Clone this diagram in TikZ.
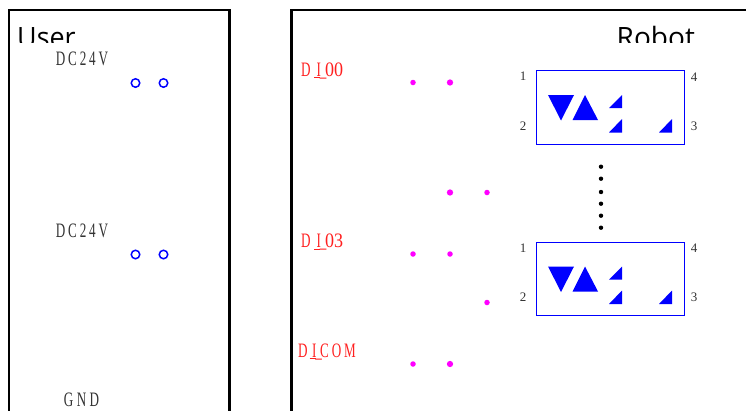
\documentclass[tikz,border=0pt]{standalone}
\usepackage{fontspec}
\setmainfont{Liberation Serif}
\newfontfamily\headfont{Open Sans}
\newfontfamily\condfont[FakeStretch=0.64,LetterSpace=14]{Liberation Serif}
\newfontfamily\tightfont[FakeStretch=0.88,LetterSpace=-1]{Liberation Serif}
\definecolor{lblgray}{HTML}{333333}
\definecolor{lblred}{HTML}{FF2020}
\definecolor{relayblue}{HTML}{0000FF}
\definecolor{dotmag}{HTML}{FF00FF}
\tikzset{
  x=1pt,y=-1pt,
  frameline/.style={draw=black,line width=2.8pt},
  headtext/.style={anchor=base west,inner sep=0pt,font=\headfont\fontsize{28}{28}\selectfont,text=black},
  pwrlabel/.style={inner sep=0pt,font=\condfont\fontsize{20.5}{20.5}\selectfont,text=lblgray},
  dilabel/.style={inner sep=0pt,anchor=base west,font=\condfont\fontsize{20.5}{20.5}\selectfont,text=lblred},
  pinlabel/.style={inner sep=0pt,font=\fontsize{13}{13}\selectfont,text=lblgray},
  term/.style={circle,draw=relayblue,line width=1.5pt,fill=white,minimum size=8.5pt,inner sep=0pt},
  pad/.style={circle,fill=dotmag,minimum size=6.3pt,inner sep=0pt},
  padsmall/.style={circle,fill=dotmag,minimum size=5.5pt,inner sep=0pt},
  relaybox/.style={draw=relayblue,line width=1.1pt,fill=white},
  relayfill/.style={fill=relayblue},
  ellipsisdot/.style={circle,fill=black,minimum size=4.4pt,inner sep=0pt},
}
% the rule carries the underscore back under the I, as the reference prints it
\newcommand{\diunder}{\llap{\rule[-2pt]{6pt}{0.8pt}\kern1pt}\kern-1.2pt\_\kern-1.2pt}
\newcommand{\relayunit}[2]{%
  \begin{scope}[yshift=-#1pt]
    \node[relaybox,minimum width=147.5pt,minimum height=73.5pt,inner sep=0pt,anchor=north west] (#2box) at (536,70) {};
    \fill[relayfill] (548,95) -- (574,95) -- (561,120.5) -- cycle;
    \fill[relayfill] (572.5,120) -- (598,120) -- (585,95) -- cycle;
    \fill[relayfill] (609,108) -- (622,108) -- (622,95) -- cycle;
    \fill[relayfill] (609,132.5) -- (622,132.5) -- (622,119) -- cycle;
    \fill[relayfill] (659,132.5) -- (672,132.5) -- (672,119) -- cycle;
    \node[pinlabel] (#2p1) at (523,76.5) {1};
    \node[pinlabel] (#2p2) at (523,126) {2};
    \node[pinlabel] (#2p3) at (694,126) {3};
    \node[pinlabel] (#2p4) at (694,77) {4};
  \end{scope}}
\begin{document}
\begin{tikzpicture}
\useasboundingbox[fill=white] (0,0) rectangle (746,410);
% frames
\draw[frameline] (9,412) -- (9,10) -- (229.5,10) -- (229.5,412);
\draw[frameline] (291.5,412) -- (291.5,10) -- (748,10);
% clipped headings
\begin{scope}
  \clip (0,12) rectangle (746,42);
  \node[headtext] (user) at (17,47.5) {\scalebox{0.96}[1]{User}};
  \node[headtext] (robot) at (616.5,47.5) {Robot};
\end{scope}
% user labels
\node[pwrlabel] (dca) at (82,59) {DC24V};
\node[pwrlabel] (dcb) at (82,231) {DC24V};
\node[pwrlabel] (gnd) at (81.5,399.5) {G\,N\,D};
\node[term] (ta) at (135.5,83) {};
\node[term] (tb) at (163.5,83) {};
\node[term] (tc) at (135.5,254.5) {};
\node[term] (td) at (163.5,254.5) {};
% robot labels
\node[dilabel] (dia) at (301,76) {D\kern6pt I\diunder{\tightfont 00}};
\node[dilabel] (dib) at (301,247.5) {D\kern6pt I\diunder{\tightfont 03}};
\node[dilabel] (dic) at (298,357) {D\kern4.5pt I\diunder\kern-.5pt COM};
\node[padsmall] (pa) at (413,82.5) {};
\node[pad] (pb) at (450,82.5) {};
\node[pad] (pc) at (450,192.5) {};
\node[padsmall] (pd) at (487,192.5) {};
\node[padsmall] (pe) at (413,254) {};
\node[padsmall] (pf) at (450,254) {};
\node[padsmall] (pg) at (487,302.5) {};
\node[padsmall] (ph) at (413,364) {};
\node[pad] (pi) at (450,364) {};
% relays
\relayunit{0}{ra}
\relayunit{171.5}{rb}
% ellipsis
\node[ellipsisdot] (ea) at (601,166.7) {};
\node[ellipsisdot] (eb) at (601,178.7) {};
\node[ellipsisdot] (ec) at (601,192) {};
\node[ellipsisdot] (ed) at (601,203.7) {};
\node[ellipsisdot] (ee) at (601,215.7) {};
\node[ellipsisdot] (ef) at (601,227.7) {};
\end{tikzpicture}
\end{document}
